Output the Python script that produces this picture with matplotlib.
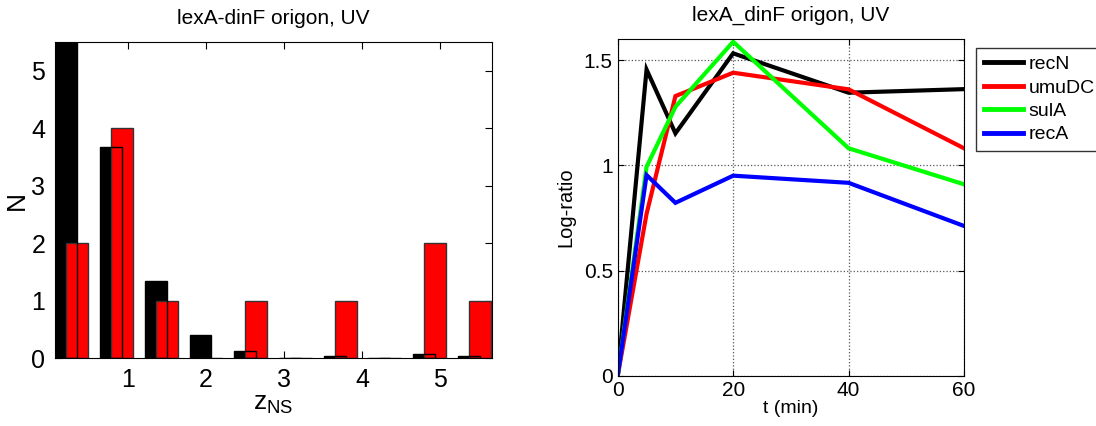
import matplotlib.pyplot as plt

plt.rcParams['font.family'] = ['Liberation Sans', 'DejaVu Sans']

# left panel: histogram of z_NS (black = background, red = observed)
bin_centers = [0.28, 0.85, 1.43, 2.00, 2.57, 3.15, 3.72, 4.29, 4.87, 5.44]
background_n = [6.5, 3.68, 1.35, 0.40, 0.12, 0.0, 0.04, 0.0, 0.075, 0.04]
observed_n = [2, 4, 1, 0, 1, 0, 1, 0, 2, 1]

# right panel: log-ratio time courses
t_min = [0, 5, 10, 20, 40, 60]
genes = ['recN', 'umuDC', 'sulA', 'recA']
recN = [0, 1.455, 1.152, 1.532, 1.345, 1.362]
umuDC = [0, 0.77, 1.329, 1.44, 1.361, 1.081]
sulA = [0, 0.993, 1.278, 1.587, 1.081, 0.91]
recA = [0, 0.954, 0.822, 0.951, 0.917, 0.712]
colors = ['black', 'red', '#00ff00', 'blue']

fig = plt.figure(figsize=(10.96, 4.26), dpi=100)

ax1 = fig.add_axes([0.0502, 0.159, 0.3987, 0.7424])
w = 0.28
black_x = [c - 0.07 for c in bin_centers]
red_x = [c + 0.07 for c in bin_centers]
ax1.bar(black_x, background_n, width=w, color='black', linewidth=0, zorder=1)
ax1.bar(red_x, observed_n, width=w, color='red', edgecolor='#333333',
        linewidth=1, zorder=2)
ax1.bar(black_x, background_n, width=w, fill=False, edgecolor='black',
        linewidth=1, zorder=3)
ax1.set_xlim(0.064, 5.667)
ax1.set_ylim(0, 5.5)
ax1.set_xticks([1, 2, 3, 4, 5])
ax1.set_yticks([0, 1, 2, 3, 4, 5])
ax1.tick_params(direction='in', top=True, right=True, labelsize=18, length=5,
                pad=7)
ax1.set_title('lexA-dinF origon, UV', fontsize=15, pad=13)
ax1.set_ylabel('N', fontsize=19, labelpad=2)
ax1.set_xlabel(r'z$_{\mathregular{NS}}$', fontsize=19, labelpad=0)

ax2 = fig.add_axes([0.5636, 0.1176, 0.316, 0.7908])
for name, vals, c in zip(genes, [recN, umuDC, sulA, recA], colors):
    ax2.plot(t_min, vals, color=c, linewidth=3, label=name,
             solid_joinstyle='miter')
ax2.set_xlim(0, 60)
ax2.set_ylim(0, 1.6)
ax2.set_xticks([0, 20, 40, 60])
ax2.set_yticks([0, 0.5, 1, 1.5])
ax2.set_yticklabels(['0', '0.5', '1', '1.5'])
ax2.grid(True, linestyle=':', color='#555555', linewidth=0.9)
ax2.tick_params(direction='in', top=True, right=True, labelsize=15, length=4)
ax2.set_title('lexA_dinF origon, UV', fontsize=15, pad=13)
ax2.set_xlabel('t (min)', fontsize=14, labelpad=0)
ax2.set_ylabel('Log-ratio', fontsize=14.5, labelpad=6)
leg = ax2.legend(loc='upper left', bbox_to_anchor=(0.8905, 0.888),
                 bbox_transform=fig.transFigure, fontsize=14, frameon=True,
                 fancybox=False, edgecolor='black', borderaxespad=0,
                 handlelength=2.0, handletextpad=0.3, labelspacing=0.3,
                 borderpad=0.4)
leg.get_frame().set_linewidth(1)
for line in leg.get_lines():
    line.set_linewidth(3.5)

fig.savefig('out.png', dpi=100)
